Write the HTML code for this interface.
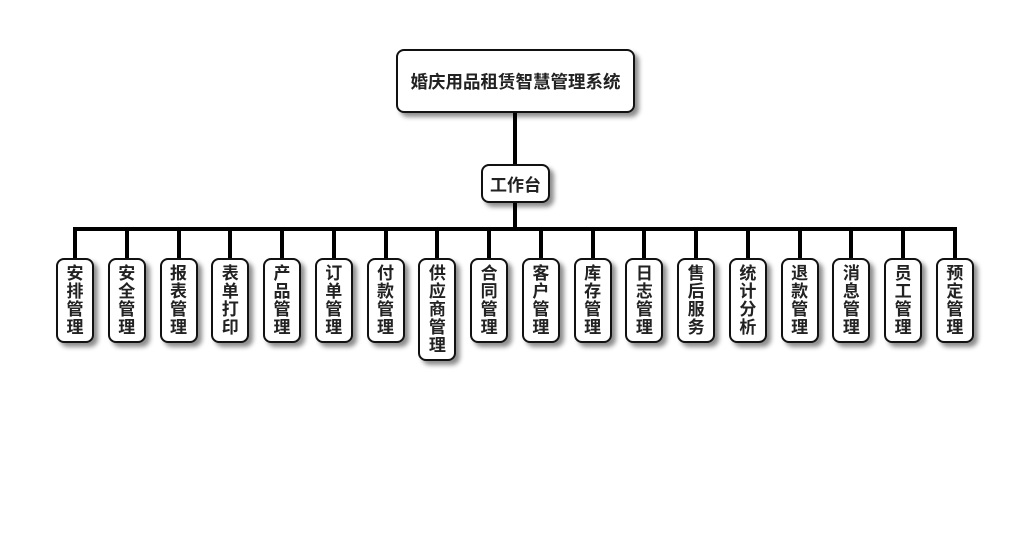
<!DOCTYPE html>
<html><head><meta charset="utf-8"><style>
body{margin:0;width:1030px;height:560px;background:#fff;position:relative;font-family:"Liberation Sans","Noto Sans CJK SC",sans-serif;font-weight:bold;color:#222}
.b{position:absolute;background:#fff;border:2px solid #111;box-sizing:border-box;border-radius:8px;box-shadow:4px 4px 5px rgba(0,0,0,.45);display:flex;align-items:center;justify-content:center;text-align:center}
.c{width:38px;top:258px;height:85px;font-size:17px;line-height:18px;padding:0 9px;word-break:break-all}
.l{position:absolute;background:#000}
</style></head><body>
<div class="l" style="left:513px;top:110px;width:4px;height:56px"></div>
<div class="l" style="left:513px;top:200px;width:4px;height:30px"></div>
<div class="l" style="left:73px;top:227px;width:884px;height:4px"></div>
<div class="b" style="left:396px;top:49px;width:239px;height:64px;font-size:17.5px">婚庆用品租赁智慧管理系统</div>
<div class="b" style="left:481px;top:164px;width:69px;height:39px;font-size:17px">工作台</div>
<div id="k"></div>
<script>
var n=["安排管理","安全管理","报表管理","表单打印","产品管理","订单管理","付款管理","供应商管理","合同管理","客户管理","库存管理","日志管理","售后服务","统计分析","退款管理","消息管理","员工管理","预定管理"];
var h="";
n.forEach(function(t,i){var cx=75+i*51.76;
h+='<div class="l" style="left:'+(cx-2)+'px;top:229px;width:4px;height:31px"></div>';
h+='<div class="b c" style="left:'+(cx-19)+'px;'+(t.length>4?'height:103px;':'')+'">'+t+'</div>';});
document.getElementById("k").innerHTML=h;
</script>
</body></html>
